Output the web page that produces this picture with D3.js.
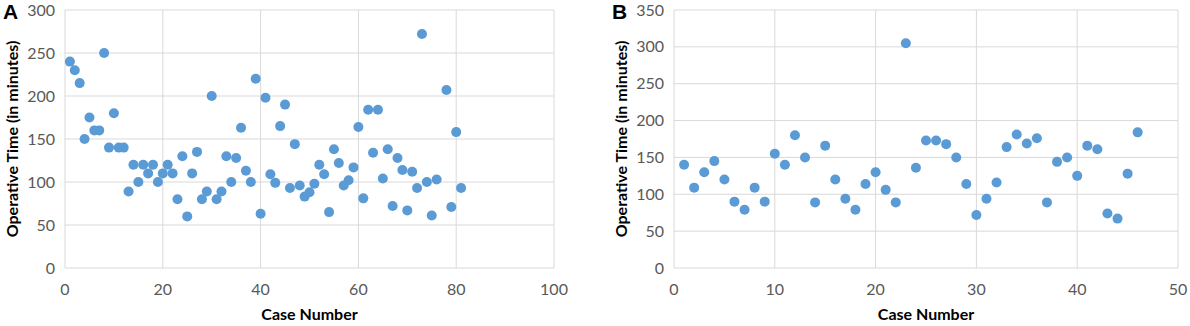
<!DOCTYPE html>
<html>
<head>
<meta charset="utf-8">
<script src="https://cdn.jsdelivr.net/npm/d3@7"></script>
<style>
    body { margin: 0; background: #fff; }
    svg { display: block; font-family: Lato, "Open Sans", sans-serif; }
</style>
</head>
<body>
<svg id="chart"></svg>
<script>
// Panel A: case numbers and operative times (minutes)
const caseA = [1,2,3,4,5,6,7,8,9,10,11,12,13,14,15,16,17,18,19,20,
    21,22,23,24,25,26,27,28,29,30,31,32,33,34,35,36,37,38,39,40,
    41,42,43,44,45,46,47,48,49,50,51,52,53,54,55,56,57,58,59,60,
    61,62,63,64,65,66,67,68,69,70,71,72,73,74,75,76,78,79,80,81];
const timeA = [240,230,215,150,175,160,160,250,140,180,140,140,89,120,100,120,110,120,100,110,
    120,110,80,130,60,110,135,80,89,200,80,89,130,100,128,163,113,100,220,63,
    198,109,99,165,190,93,144,96,83,88,98,120,109,65,138,122,96,102,117,164,
    81,184,134,184,104,138,72,128,114,67,112,93,272,100,61,103,207,71,158,93];

// Panel B
const caseB = d3.range(1, 47);
const timeB = [140,109,130,145,120,90,79,109,90,155,140,180,150,89,166,120,94,79,114,130,
    106,89,305,136,173,173,168,150,114,72,94,116,164,181,169,176,89,144,150,125,
    166,161,74,67,128,184];

const ticksA_x = [0,20,40,60,80,100];
const ticksA_y = [0,50,100,150,200,250,300];
const ticksB_x = [0,10,20,30,40,50];
const ticksB_y = [0,50,100,150,200,250,300,350];

const W = 1190, H = 326;
const svg = d3.select('#chart').attr('width', W).attr('height', H);

function drawPanel(opts) {
    const {left, right, top, bottom, xs, ys, xMax, yMax, xTicks, yTicks, letter, letterX} = opts;
    const x = d3.scaleLinear().domain([0, xMax]).range([left, right]);
    const y = d3.scaleLinear().domain([0, yMax]).range([bottom, top]);
    const g = svg.append('g');

    // grid lines
    g.selectAll('.hgrid').data(yTicks).enter().append('line')
        .attr('x1', left).attr('x2', right)
        .attr('y1', d => y(d)).attr('y2', d => y(d))
        .attr('stroke', '#d9d9d9').attr('stroke-width', 1);
    g.selectAll('.vgrid').data(xTicks).enter().append('line')
        .attr('y1', top).attr('y2', bottom)
        .attr('x1', d => x(d)).attr('x2', d => x(d))
        .attr('stroke', '#d9d9d9').attr('stroke-width', 1);

    // tick labels
    g.selectAll('.ylab').data(yTicks).enter().append('text')
        .attr('x', left - 10).attr('y', d => y(d) + 5.5)
        .attr('text-anchor', 'end')
        .attr('fill', '#595959').style('font-size', '16px')
        .text(d => d);
    g.selectAll('.xlab').data(xTicks).enter().append('text')
        .attr('x', d => x(d)).attr('y', bottom + 27)
        .attr('text-anchor', 'middle')
        .attr('fill', '#595959').style('font-size', '16px')
        .text(d => d);

    // axis titles
    g.append('text')
        .attr('x', (left + right) / 2).attr('y', bottom + 52)
        .attr('text-anchor', 'middle')
        .style('font-size', '16px').style('font-weight', 'bold')
        .attr('fill', '#000')
        .text('Case Number');
    g.append('text')
        .attr('transform', `translate(${letterX + 15},${(top + bottom) / 2}) rotate(-90)`)
        .attr('text-anchor', 'middle')
        .style('font-size', '16px').style('font-weight', 'bold')
        .attr('fill', '#000')
        .text('Operative Time (in minutes)');

    // panel letter
    g.append('text')
        .attr('x', letterX).attr('y', 19)
        .style('font-size', '21px').style('font-weight', 'bold')
        .attr('font-family', 'Liberation Sans, Arial, sans-serif')
        .attr('fill', '#000')
        .text(letter);

    // dots
    g.selectAll('.dot').data(xs.map((d, i) => [d, ys[i]])).enter().append('circle')
        .attr('cx', d => x(d[0])).attr('cy', d => y(d[1]))
        .attr('r', 5)
        .attr('fill', '#5b9bd5');
}

drawPanel({left: 65, right: 554, top: 10, bottom: 268,
    xs: caseA, ys: timeA, xMax: 100, yMax: 300,
    xTicks: ticksA_x, yTicks: ticksA_y, letter: 'A', letterX: 3});

drawPanel({left: 674, right: 1178, top: 10, bottom: 268,
    xs: caseB, ys: timeB, xMax: 50, yMax: 350,
    xTicks: ticksB_x, yTicks: ticksB_y, letter: 'B', letterX: 612});
</script>
</body>
</html>
